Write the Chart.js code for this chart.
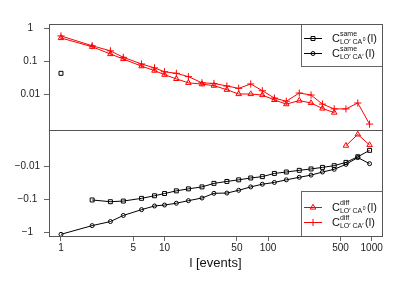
<!DOCTYPE html>
<html>
<head>
<meta charset="utf-8">
<script src="https://cdn.jsdelivr.net/npm/chart.js@4/dist/chart.umd.min.js"></script>
<style>
  html, body { margin: 0; padding: 0; background: #fff; }
  #wrap { width: 407px; height: 285px; }
</style>
</head>
<body>
<div id="wrap"><canvas id="corrChart" width="407" height="285"></canvas></div>
<script>
// lag l in events
const lagEvents = [1, 2, 3, 4, 6, 8, 10, 13, 17, 23, 30, 40, 52, 68, 88, 115, 150, 200, 260, 335, 435, 565, 735, 955];

// C same, LO' CA0 (squares) / LO' CA' (circles)
const sameCA0 = [0.043, -0.102, -0.115, -0.11, -0.091, -0.076, -0.065, -0.054, -0.047, -0.041, -0.032, -0.028,
  -0.025, -0.022, -0.02, -0.016, -0.0145, -0.0129, -0.0117, -0.0105, -0.0093, -0.0074, -0.005, -0.0032];
const sameCAp = [-1.12, -0.61, -0.46, -0.3, -0.2, -0.155, -0.145, -0.128, -0.107, -0.089, -0.064, -0.063,
  -0.052, -0.041, -0.034, -0.03, -0.025, -0.021, -0.018, -0.0145, -0.012, -0.0085, -0.0053, -0.0081];

// C diff, LO' CA0 (triangles) / LO' CA' (plus)
const diffCA0 = [0.52, 0.28, 0.168, 0.118, 0.071, 0.052, 0.039, 0.029, 0.022, 0.02, 0.018, 0.0135,
  0.01, 0.01, 0.0093, 0.0066, 0.0049, 0.0063, 0.0053, 0.0036, 0.0027, -0.0023, -0.00105, -0.0022];
const diffCAp = [0.6, 0.3, 0.21, 0.133, 0.083, 0.063, 0.048, 0.043, 0.034, 0.022, 0.021, 0.0176,
  0.0149, 0.0203, 0.0126, 0.0075, 0.006, 0.0107, 0.0093, 0.0049, 0.0035, 0.0035, 0.0053, 0.0012];

const xTicks = [1, 5, 10, 50, 100, 500, 1000];
const yTicksUpper = [1, 0.1, 0.01];
const yTicksLower = [-0.01, -0.1, -1];

const legendSame = [
  { sup: 'same', sub: 'LO\u2032 CA', mark: '0', color: '#000', style: 'rect', r: 2.8 },
  { sup: 'same', sub: 'LO\u2032 CA\u2032', mark: '', color: '#000', style: 'circle', r: 2 },
];
const legendDiff = [
  { sup: 'diff', sub: 'LO\u2032 CA', mark: '0', color: '#ff0000', style: 'triangle', r: 3.2 },
  { sup: 'diff', sub: 'LO\u2032 CA\u2032', mark: '', color: '#ff0000', style: 'cross', r: 3.6 },
];

const FONT = '"Liberation Sans", Arial, Helvetica, sans-serif';
const MINUS = '\u2212';

const upper = vals => vals.map((v, i) => ({ x: lagEvents[i], y: v > 0 ? v : null }));
const lower = vals => vals.map((v, i) => ({ x: lagEvents[i], y: v < 0 ? -v : null }));

function look(color, pointStyle, radius) {
  return {
    borderColor: color,
    backgroundColor: 'rgba(0,0,0,0)',
    pointBorderColor: color,
    pointBackgroundColor: 'rgba(0,0,0,0)',
    pointStyle: pointStyle,
    pointRadius: radius,
    pointHoverRadius: radius,
    pointBorderWidth: 1,
    borderWidth: 1,
    tension: 0,
    clip: 6,
  };
}

function drawLabel(ctx, x, cy, it) {
  ctx.fillStyle = '#111';
  ctx.textAlign = 'left';
  ctx.textBaseline = 'alphabetic';
  ctx.font = '11px ' + FONT;
  ctx.fillText('C', x, cy + 4);
  const cw = ctx.measureText('C').width;
  ctx.font = '7px ' + FONT;
  ctx.fillText(it.sup, x + cw, cy - 2.5);
  const supW = ctx.measureText(it.sup).width;
  ctx.fillText(it.sub, x + cw, cy + 5.5);
  let subW = ctx.measureText(it.sub).width;
  if (it.mark) {
    ctx.font = '5px ' + FONT;
    ctx.fillText(it.mark, x + cw + subW + 0.5, cy + 3);
    subW += ctx.measureText(it.mark).width + 0.5;
  }
  ctx.font = '11px ' + FONT;
  ctx.fillText('(l)', x + cw + Math.max(subW, supW) + 1.5, cy + 4);
}

function drawLegend(ctx, left, top, right, bottom, items, offsets) {
  ctx.fillStyle = '#fff';
  ctx.fillRect(left, top, right - left, bottom - top);
  ctx.strokeStyle = '#666';
  ctx.lineWidth = 1;
  ctx.strokeRect(left + 0.5, top + 0.5, right - left, bottom - top);
  items.forEach((it, i) => {
    const cy = top + offsets[i];
    ctx.strokeStyle = it.color;
    ctx.beginPath();
    ctx.moveTo(left + 3, cy + 0.5);
    ctx.lineTo(left + 21, cy + 0.5);
    ctx.stroke();
    ctx.fillStyle = 'rgba(0,0,0,0)';
    Chart.helpers.drawPoint(ctx, { pointStyle: it.style, radius: it.r, borderWidth: 1, rotation: 0 }, left + 12, cy + 0.5);
    drawLabel(ctx, left + 31, cy, it);
  });
}

const framePlugin = {
  id: 'frame',
  afterDatasetsDraw(chart) {
    const { ctx, chartArea: a, scales } = chart;
    ctx.save();
    const L = Math.floor(a.left) + 0.5, T = Math.floor(a.top) + 0.5;
    const R = Math.floor(a.right) + 0.5, B = Math.floor(a.bottom) + 0.5;
    const legLeft = Math.floor(a.right) - 81;
    drawLegend(ctx, legLeft, Math.floor(a.top), Math.floor(a.right), Math.floor(a.top) + 42, legendSame, [14, 29]);
    drawLegend(ctx, legLeft, Math.floor(a.bottom) - 45, Math.floor(a.right), Math.floor(a.bottom), legendDiff, [16, 31]);
    ctx.strokeStyle = '#555';
    ctx.lineWidth = 1;
    ctx.strokeRect(L, T, R - L, B - T);
    const mid = Math.floor(scales.y.bottom) + 0.5;
    ctx.beginPath();
    ctx.moveTo(L, mid);
    ctx.lineTo(R, mid);
    ctx.stroke();
    ctx.restore();
  },
};

const yTick = {
  font: { size: 10, family: FONT },
  color: '#222',
  padding: 4,
  crossAlign: 'center',
  autoSkip: false,
};
const yGrid = { drawOnChartArea: false, drawTicks: true, tickLength: 5, color: '#666' };

const ctx = document.getElementById('corrChart');
new Chart(ctx, {
  type: 'line',
  data: {
    datasets: [
      { label: 'same CA0', data: upper(sameCA0), yAxisID: 'y', ...look('#000', 'rect', 2.8) },
      { label: 'same CA0', data: lower(sameCA0), yAxisID: 'y2', ...look('#000', 'rect', 2.8) },
      { label: "same CA'", data: upper(sameCAp), yAxisID: 'y', ...look('#000', 'circle', 2) },
      { label: "same CA'", data: lower(sameCAp), yAxisID: 'y2', ...look('#000', 'circle', 2) },
      { label: 'diff CA0', data: upper(diffCA0), yAxisID: 'y', ...look('#ff0000', 'triangle', 3.2) },
      { label: 'diff CA0', data: lower(diffCA0), yAxisID: 'y2', ...look('#ff0000', 'triangle', 3.2) },
      { label: "diff CA'", data: upper(diffCAp), yAxisID: 'y', ...look('#ff0000', 'cross', 3.6) },
      { label: "diff CA'", data: lower(diffCAp), yAxisID: 'y2', ...look('#ff0000', 'cross', 3.6) },
    ],
  },
  options: {
    responsive: false,
    animation: false,
    devicePixelRatio: 1,
    events: [],
    layout: { padding: { top: 24, right: 25, left: 0, bottom: 0 } },
    plugins: { legend: { display: false }, tooltip: { enabled: false } },
    scales: {
      x: {
        type: 'logarithmic',
        min: 0.766,
        max: 1259,
        afterBuildTicks: (s) => { s.ticks = xTicks.map(v => ({ value: v })); },
        afterFit: (s) => { s.height = 49; },
        grid: { drawOnChartArea: false, drawTicks: true, tickLength: 5, color: '#666' },
        border: { display: false },
        ticks: {
          callback: (v) => String(v),
          font: { size: 10, family: FONT },
          color: '#222',
          padding: 1,
          maxRotation: 0,
          autoSkip: false,
        },
        title: {
          display: true,
          text: 'l [events]',
          font: { size: 13, family: FONT },
          color: '#111',
          padding: { top: 0, bottom: 14 },
        },
      },
      // upper panel (positive values); weight puts it on top of the stack
      y: {
        type: 'logarithmic',
        position: 'left',
        stack: 'panel',
        stackWeight: 1,
        weight: 1,
        min: 0.00079,
        max: 1.393,
        afterBuildTicks: (s) => { s.ticks = yTicksUpper.map(v => ({ value: v })); },
        afterFit: (s) => { s.width = 49; },
        grid: yGrid,
        border: { display: false },
        ticks: { ...yTick, callback: (v) => String(v) },
      },
      // lower panel (negative values, drawn by magnitude on a reversed axis)
      y2: {
        type: 'logarithmic',
        position: 'left',
        stack: 'panel',
        stackWeight: 1,
        weight: 0,
        reverse: true,
        min: 0.000773,
        max: 1.259,
        afterBuildTicks: (s) => { s.ticks = yTicksLower.map(v => ({ value: Math.abs(v) })); },
        afterFit: (s) => { s.width = 49; },
        grid: yGrid,
        border: { display: false },
        ticks: { ...yTick, callback: (v) => MINUS + String(v) },
      },
    },
  },
  plugins: [framePlugin],
});
</script>
</body>
</html>
